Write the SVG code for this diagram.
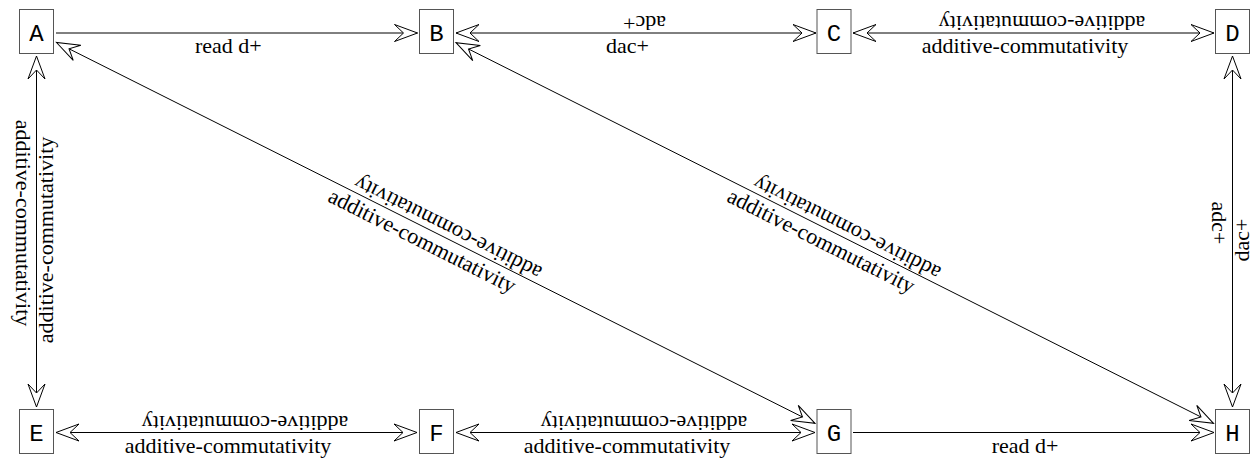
<svg xmlns="http://www.w3.org/2000/svg" width="1257" height="458" viewBox="0 0 1257 458">
<style>
.box{fill:#fff;stroke:#555;stroke-width:1}
.nt{font-family:"Courier New","Liberation Mono",monospace;font-size:24px;text-anchor:middle;fill:#000}
.edge{stroke:#000;stroke-width:1;fill:none}
.lbl{font-family:"Liberation Serif","Times New Roman",serif;font-size:22px;text-anchor:middle;fill:#000}
</style>
<defs>
<marker id="vee" viewBox="-25 -11 27 22" markerWidth="27" markerHeight="22" refX="0" refY="0" orient="auto-start-reverse" markerUnits="userSpaceOnUse" overflow="visible">
<path d="M0,0 L-23,-8.5 L-14,0 L-23,8.5 Z" fill="#fff" stroke="#000" stroke-width="1" stroke-linejoin="miter"/>
</marker>
</defs>
<rect width="1257" height="458" fill="#fff"/>
<g id="connectors">
<line class="edge" x1="56" y1="33" x2="417.5" y2="33" marker-end="url(#vee)"/>
<line class="edge" x1="456" y1="33" x2="816" y2="33" marker-start="url(#vee)" marker-end="url(#vee)"/>
<line class="edge" x1="853" y1="33" x2="1214" y2="33" marker-start="url(#vee)" marker-end="url(#vee)"/>
<line class="edge" x1="56" y1="432.5" x2="417" y2="432.5" marker-start="url(#vee)" marker-end="url(#vee)"/>
<line class="edge" x1="456" y1="432.5" x2="815" y2="432.5" marker-start="url(#vee)" marker-end="url(#vee)"/>
<line class="edge" x1="853" y1="432.5" x2="1214" y2="432.5" marker-end="url(#vee)"/>
<line class="edge" x1="36.5" y1="56" x2="36.5" y2="407" marker-start="url(#vee)" marker-end="url(#vee)"/>
<line class="edge" x1="1232.5" y1="56" x2="1232.5" y2="407" marker-start="url(#vee)" marker-end="url(#vee)"/>
<line class="edge" x1="56.5" y1="42.5" x2="815" y2="423.3" marker-start="url(#vee)" marker-end="url(#vee)"/>
<line class="edge" x1="456" y1="42.7" x2="1213.5" y2="423.3" marker-start="url(#vee)" marker-end="url(#vee)"/>
<g id="labels">
<g transform="translate(236.75,33)"><text class="lbl" x="-8.5" y="20.3">read d+</text></g>
<g transform="translate(636,33)"><text class="lbl" x="-8.5" y="20.3">dac+</text></g>
<g transform="translate(636,33) rotate(180)"><text class="lbl" x="-8.5" y="16.8">adc+</text></g>
<g transform="translate(1033.5,33)"><text class="lbl" x="-8.5" y="20.3">additive-commutativity</text></g>
<g transform="translate(1033.5,33) rotate(180)"><text class="lbl" x="-8.5" y="16.8">additive-commutativity</text></g>
<g transform="translate(236.5,432.5)"><text class="lbl" x="-8.5" y="20.3">additive-commutativity</text></g>
<g transform="translate(236.5,432.5) rotate(180)"><text class="lbl" x="-8.5" y="16.8">additive-commutativity</text></g>
<g transform="translate(635.5,432.5)"><text class="lbl" x="-8.5" y="20.3">additive-commutativity</text></g>
<g transform="translate(635.5,432.5) rotate(180)"><text class="lbl" x="-8.5" y="16.8">additive-commutativity</text></g>
<g transform="translate(1033.5,432.5)"><text class="lbl" x="-8.5" y="20.3">read d+</text></g>
<g transform="translate(36.5,231.5) rotate(90)"><text class="lbl" x="-8.5" y="20.3">additive-commutativity</text></g>
<g transform="translate(36.5,231.5) rotate(-90)"><text class="lbl" x="-8.5" y="16.8">additive-commutativity</text></g>
<g transform="translate(1232.5,231.5) rotate(90)"><text class="lbl" x="-8.5" y="20.3">adc+</text></g>
<g transform="translate(1232.5,231.5) rotate(-90)"><text class="lbl" x="-8.5" y="16.8">dac+</text></g>
<g transform="translate(435.75,232.9) rotate(26.66)"><text class="lbl" x="-8.5" y="20.3">additive-commutativity</text></g>
<g transform="translate(435.75,232.9) rotate(206.66)"><text class="lbl" x="-8.5" y="16.8">additive-commutativity</text></g>
<g transform="translate(834.75,233) rotate(26.67)"><text class="lbl" x="-8.5" y="20.3">additive-commutativity</text></g>
<g transform="translate(834.75,233) rotate(206.67)"><text class="lbl" x="-8.5" y="16.8">additive-commutativity</text></g>
</g>
</g>
<g id="node-A"><rect class="box" x="19.5" y="9.5" width="34" height="44"/><text class="nt" x="36.5" y="40.5">A</text></g>
<g id="node-B"><rect class="box" x="419.5" y="9.5" width="34" height="44"/><text class="nt" x="436.5" y="40.5">B</text></g>
<g id="node-C"><rect class="box" x="817" y="9.5" width="34" height="44"/><text class="nt" x="834" y="40.5">C</text></g>
<g id="node-D"><rect class="box" x="1215.5" y="9.5" width="34" height="44"/><text class="nt" x="1232.5" y="40.5">D</text></g>
<g id="node-E"><rect class="box" x="19.5" y="409.5" width="34" height="44"/><text class="nt" x="36.5" y="440.5">E</text></g>
<g id="node-F"><rect class="box" x="419.5" y="409.5" width="34" height="44"/><text class="nt" x="436.5" y="440.5">F</text></g>
<g id="node-G"><rect class="box" x="817" y="409.5" width="34" height="44"/><text class="nt" x="834" y="440.5">G</text></g>
<g id="node-H"><rect class="box" x="1215.5" y="409.5" width="34" height="44"/><text class="nt" x="1232.5" y="440.5">H</text></g>
</svg>
